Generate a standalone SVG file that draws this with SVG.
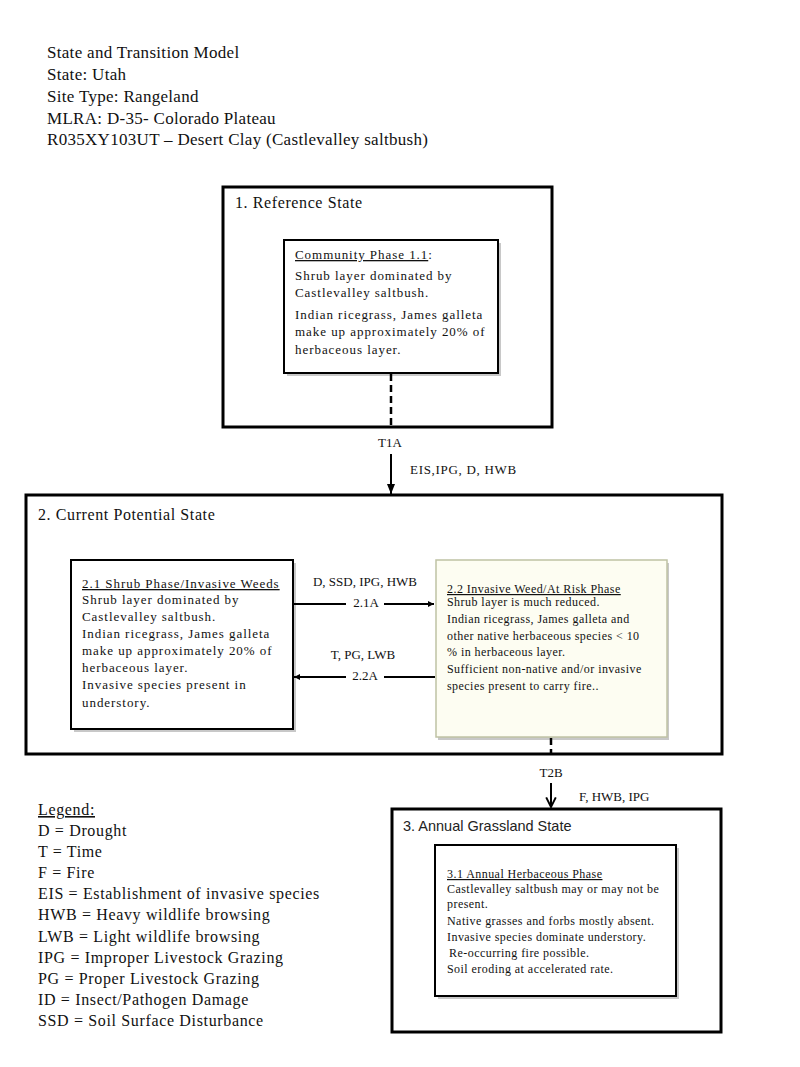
<svg xmlns="http://www.w3.org/2000/svg" width="800" height="1067" viewBox="0 0 800 1067">
<style>
  .serif { font-family: "Liberation Serif", "Times New Roman", serif; fill: #111; }
  .hdr { font-size: 17px; letter-spacing: 0.3px; }
  .st { font-size: 16px; letter-spacing: 0.6px; }
  .ph13 { font-size: 13px; letter-spacing: 0.95px; }
  .ph12 { font-size: 12px; letter-spacing: 0.45px; }
  .lg { font-size: 16px; letter-spacing: 0.65px; }
  .u { text-decoration: underline; }
  .state { fill: #fff; stroke: #000; stroke-width: 3; }
  .phase { fill: #fff; stroke: #000; stroke-width: 2; }
  .shadow { fill: #9a9a9a; opacity: 0.55; }
  .conn { stroke: #000; stroke-width: 2; fill: none; }
  .dash { stroke-dasharray: 7 4; stroke-width: 2.5; }
  .lbl { font-size: 13px; }
</style>
<defs>
  <marker id="tri" viewBox="0 0 10 10" refX="10" refY="5" markerWidth="6" markerHeight="6" markerUnits="userSpaceOnUse" orient="auto">
    <path d="M0,0 L10,5 L0,10 z" fill="#000"/>
  </marker>
  <marker id="triBig" viewBox="0 0 10 10" refX="10" refY="5" markerWidth="10" markerHeight="10" markerUnits="userSpaceOnUse" orient="auto">
    <path d="M0,1 L10,5 L0,9 z" fill="#000"/>
  </marker>
  <marker id="vee" viewBox="0 0 10 10" refX="9" refY="5" markerWidth="12" markerHeight="12" markerUnits="userSpaceOnUse" orient="auto">
    <path d="M1,1 L9,5 L1,9" fill="none" stroke="#000" stroke-width="1.6"/>
  </marker>
</defs>
<rect width="800" height="1067" fill="#fff"/>

<g id="header" class="serif hdr">
  <text x="47" y="58">State and Transition Model</text>
  <text x="47" y="80">State: Utah</text>
  <text x="47" y="102">Site Type: Rangeland</text>
  <text x="47" y="124">MLRA: D-35- Colorado Plateau</text>
  <text x="47" y="145">R035XY103UT – Desert Clay (Castlevalley  saltbush)</text>
</g>

<g id="state1">
  <rect class="state" x="223" y="187" width="329" height="240"/>
  <text class="serif st" x="235" y="208">1. Reference State</text>
</g>
<g id="phase11">
  <rect class="shadow" x="287" y="243" width="214" height="133"/>
  <rect class="phase" x="284" y="240" width="214" height="133"/>
  <text class="serif ph13" x="295" y="259"><tspan class="u">Community Phase 1.1</tspan>:</text>
  <text class="serif ph13" x="295" y="280">Shrub layer dominated by</text>
  <text class="serif ph13" x="295" y="297">Castlevalley saltbush.</text>
  <text class="serif ph13" x="295" y="319">Indian ricegrass, James galleta</text>
  <text class="serif ph13" x="295" y="336">make up approximately 20% of</text>
  <text class="serif ph13" x="295" y="354">herbaceous layer.</text>
</g>

<g id="state2">
  <rect class="state" x="26" y="495" width="696" height="259"/>
  <text class="serif st" x="38" y="520">2. Current Potential State</text>
</g>
<g id="phase21">
  <rect class="shadow" x="74" y="563" width="222" height="169"/>
  <rect class="phase" x="71" y="560" width="222" height="169"/>
  <text class="serif ph13" x="82" y="588"><tspan class="u">2.1 Shrub Phase/Invasive Weeds</tspan></text>
  <text class="serif ph13" x="82" y="604">Shrub layer dominated by</text>
  <text class="serif ph13" x="82" y="621">Castlevalley saltbush.</text>
  <text class="serif ph13" x="82" y="638">Indian ricegrass, James galleta</text>
  <text class="serif ph13" x="82" y="655">make up approximately 20% of</text>
  <text class="serif ph13" x="82" y="672">herbaceous layer.</text>
  <text class="serif ph13" x="82" y="689">Invasive species present in</text>
  <text class="serif ph13" x="82" y="707">understory.</text>
</g>
<g id="phase22">
  <rect class="shadow" x="438" y="563" width="231" height="177"/>
  <rect x="436" y="560" width="231" height="177" fill="#fdfdf2" stroke="#bfc2a4" stroke-width="1.5"/>
  <text class="serif ph12" x="447" y="593"><tspan class="u">2.2 Invasive Weed/At Risk Phase</tspan></text>
  <text class="serif ph12" x="447" y="606">Shrub layer is much reduced.</text>
  <text class="serif ph12" x="447" y="623">Indian ricegrass, James galleta and</text>
  <text class="serif ph12" x="447" y="640">other native herbaceous species &lt; 10</text>
  <text class="serif ph12" x="447" y="656">% in herbaceous layer.</text>
  <text class="serif ph12" x="447" y="673">Sufficient non-native and/or invasive</text>
  <text class="serif ph12" x="447" y="690">species present to carry fire..</text>
</g>

<g id="state3">
  <rect class="state" x="392" y="809" width="329" height="223"/>
  <text x="403" y="831" font-family="'Liberation Sans', Arial, sans-serif" font-size="14.5" fill="#222">3. Annual Grassland State</text>
</g>
<g id="phase31">
  <rect class="shadow" x="438" y="848" width="241" height="151"/>
  <rect class="phase" x="435" y="845" width="241" height="151"/>
  <text class="serif ph12" x="447" y="878"><tspan class="u">3.1 Annual Herbaceous Phase</tspan></text>
  <text class="serif ph12" x="447" y="893">Castlevalley saltbush may or may not be</text>
  <text class="serif ph12" x="447" y="908">present.</text>
  <text class="serif ph12" x="447" y="925">Native grasses and forbs mostly absent.</text>
  <text class="serif ph12" x="447" y="941">Invasive species dominate  understory.</text>
  <text class="serif ph12" x="449" y="957">Re-occurring  fire  possible.</text>
  <text class="serif ph12" x="447" y="973">Soil eroding  at accelerated  rate.</text>
</g>

<g id="connectors">
  <line class="conn dash" x1="391" y1="374" x2="391" y2="426"/>
  <line class="conn" x1="391" y1="454" x2="391" y2="494" marker-end="url(#triBig)"/>
  <text class="serif lbl" x="390" y="447" text-anchor="middle">T1A</text>
  <text class="serif lbl" x="410" y="474" letter-spacing="0.7">EIS,IPG, D,  HWB</text>

  <line class="conn" x1="294" y1="604" x2="434" y2="604" stroke-width="1.2" marker-end="url(#tri)"/>
  <rect x="346" y="594" width="38" height="13" fill="#fff"/>
  <text class="serif lbl" x="365" y="586" text-anchor="middle">D, SSD, IPG, HWB</text>
  <text class="serif lbl" x="366" y="607" text-anchor="middle">2.1A</text>

  <line class="conn" x1="435" y1="677" x2="294" y2="677" stroke-width="1.2" marker-end="url(#tri)"/>
  <rect x="346" y="667" width="38" height="13" fill="#fff"/>
  <text class="serif lbl" x="363" y="659" text-anchor="middle">T, PG, LWB</text>
  <text class="serif lbl" x="365" y="680" text-anchor="middle">2.2A</text>

  <line class="conn dash" x1="551" y1="738" x2="551" y2="754"/>
  <text class="serif lbl" x="551" y="777" text-anchor="middle">T2B</text>
  <line class="conn" x1="551" y1="783" x2="551" y2="807" marker-end="url(#vee)"/>
  <text class="serif lbl" x="579" y="801">F, HWB, IPG</text>
</g>

<g id="legend" class="serif lg">
  <text x="38" y="815"><tspan class="u">Legend:</tspan></text>
  <text x="38" y="836">D = Drought</text>
  <text x="38" y="857">T = Time</text>
  <text x="38" y="878">F = Fire</text>
  <text x="38" y="899">EIS = Establishment  of invasive  species</text>
  <text x="38" y="920">HWB = Heavy wildlife browsing</text>
  <text x="38" y="942">LWB = Light wildlife browsing</text>
  <text x="38" y="963">IPG = Improper Livestock Grazing</text>
  <text x="38" y="984">PG = Proper Livestock Grazing</text>
  <text x="38" y="1005">ID = Insect/Pathogen Damage</text>
  <text x="38" y="1026">SSD = Soil Surface Disturbance</text>
</g>
</svg>
